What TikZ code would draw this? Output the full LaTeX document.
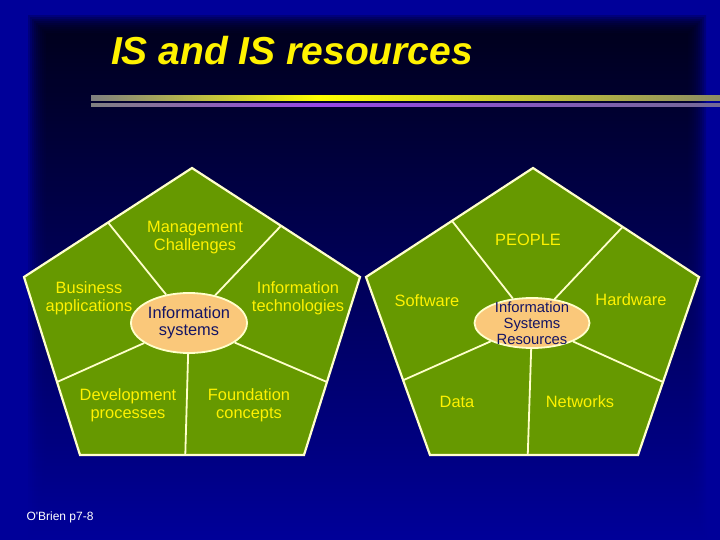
\documentclass[tikz,border=0pt]{standalone}
\usepackage{fontspec}
\setmainfont{Liberation Sans}
\usetikzlibrary{positioning, shapes.geometric, calc}
\definecolor{slideblue}{RGB}{0,0,153}
\definecolor{slidedark}{RGB}{0,0,20}
\definecolor{slidemid}{RGB}{0,0,55}
\definecolor{pentgreen}{RGB}{102,153,0}
\definecolor{pentedge}{RGB}{255,255,204}
\definecolor{hubfill}{RGB}{250,200,122}
\definecolor{hubtext}{RGB}{20,20,100}
\definecolor{rulegray}{RGB}{128,128,128}
\definecolor{rulekhaki}{RGB}{140,140,100}
\definecolor{rulepurple}{RGB}{150,70,230}
\definecolor{rulemauve}{RGB}{115,105,150}
\tikzset{
	pentagon/.style={
			fill=pentgreen,
			draw=pentedge,
			line width=2.2pt,
			line join=miter
		},
	divider/.style={
			draw=pentedge,
			line width=1.8pt
		},
	hubnode/.style={
			ellipse,
			fill=hubfill,
			draw=pentedge,
			line width=1.8pt,
			text=hubtext,
			align=center,
			inner sep=0pt,
			minimum width=115pt,
			minimum height=60pt
		},
	partlabel/.style={
			text=yellow,
			align=center,
			font=\fontsize{16.4}{18}\selectfont
		}
}
\tikzset{
	titletext/.style={text=yellow, font=\fontsize{39}{39}\selectfont\bfseries\itshape},
	srcnote/.style={text=white, font=\fontsize{12}{14}\selectfont}
}

\begin{document}
\begin{tikzpicture}[x=1pt, y=-1pt]
  \useasboundingbox (0,0) rectangle (720,540);

  \fill[slideblue] (0,0) rectangle (720,540);
  \foreach \d in {0,2,...,18}
    \shade[top color=slidedark, middle color=slidemid, bottom color=slideblue, opacity=0.22]
      (28+\d,16+\d) rectangle (706-\d,540);

  \node[titletext] (title) at (292,51) {IS and IS resources};

  \shade[left color=rulegray, right color=yellow] (91,96) rectangle (320,101);
  \shade[left color=yellow, right color=rulekhaki] (320,96) rectangle (720,101);
  \shade[left color=rulegray, right color=rulepurple] (91,103.5) rectangle (320,107);
  \shade[left color=rulepurple, right color=rulemauve] (320,103.5) rectangle (720,107);

  \coordinate (lT) at (192,168);
  \coordinate (lR) at (360,277);
  \coordinate (lBR) at (304,455);
  \coordinate (lBL) at (80,455);
  \coordinate (lL) at (24,277);
  \draw[pentagon] (lT) -- (lR) -- (lBR) -- (lBL) -- (lL) -- cycle;

  \coordinate (rT) at (533,168);
  \coordinate (rR) at (699,277);
  \coordinate (rBR) at (638,455);
  \coordinate (rBL) at (430,455);
  \coordinate (rL) at (366,277);
  \draw[pentagon] (rT) -- (rR) -- (rBR) -- (rBL) -- (rL) -- cycle;

  \node[hubnode, font=\fontsize{16.4}{17}\selectfont] (hubL) at (189,323) {Information\\systems};
  \node[hubnode, minimum height=50pt, inner ysep=-6pt, font=\fontsize{14.8}{16}\selectfont] (hubR) at (532,323) {Information\\Systems\\Resources};

  \coordinate (l1) at ($(lT)!0.5!(lL)$);
  \coordinate (l2) at ($(lT)!0.53!(lR)$);
  \coordinate (l3) at ($(lL)!0.59!(lBL)$);
  \coordinate (l4) at ($(lR)!0.59!(lBR)$);
  \coordinate (l5) at ($(lBL)!0.47!(lBR)$);
  \coordinate (r1) at ($(rT)!0.485!(rL)$);
  \coordinate (r2) at ($(rT)!0.54!(rR)$);
  \coordinate (r3) at ($(rL)!0.58!(rBL)$);
  \coordinate (r4) at ($(rR)!0.59!(rBR)$);
  \coordinate (r5) at ($(rBL)!0.47!(rBR)$);

  \foreach \e in {l1,l2,l3,l4,l5}
    \draw[divider] (hubL) -- (\e);
  \foreach \e in {r1,r2,r3,r4,r5}
    \draw[divider] (hubR) -- (\e);

  \node[partlabel] (mgmt) at (195,238) {Management\\Challenges};
  \node[partlabel] (bizapp) at (89,298) {Business\\applications};
  \node[partlabel] (infotech) at (298,298) {Information\\technologies};
  \node[partlabel] (devproc) at (128,405) {Development\\processes};
  \node[partlabel] (found) at (249,405) {Foundation\\concepts};

  \node[partlabel] (people) at (528,240) {PEOPLE};
  \node[partlabel] (software) at (427,301) {Software};
  \node[partlabel] (hardware) at (631,300) {Hardware};
  \node[partlabel] (data) at (457,402) {Data};
  \node[partlabel] (networks) at (580,402) {Networks};

  \node[srcnote] (src) at (60,517) {O\textquotesingle Brien p7-8};

\end{tikzpicture}
\end{document}
